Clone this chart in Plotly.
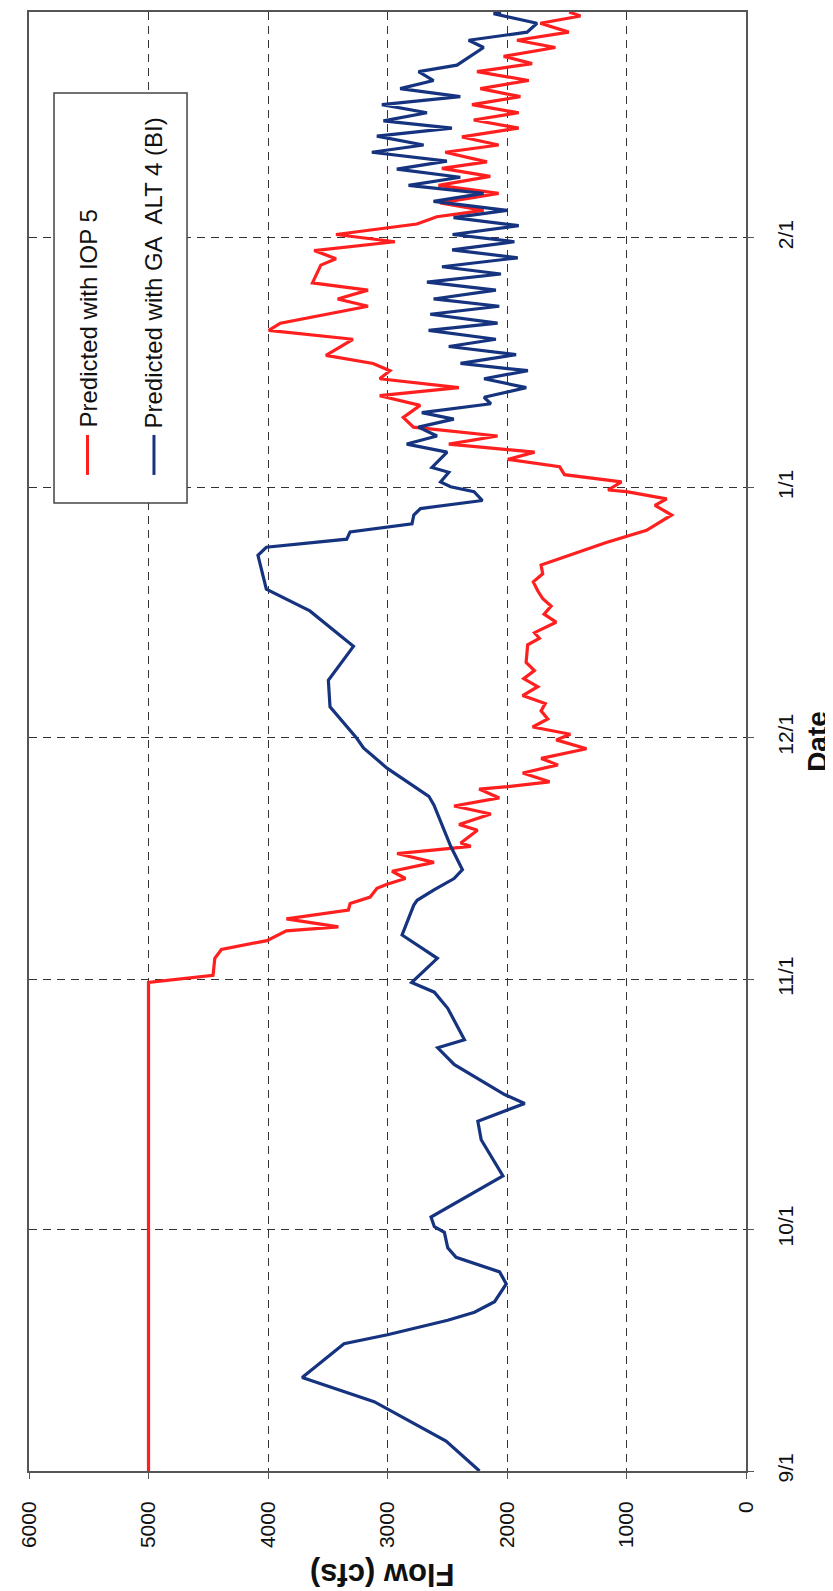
"""Predicted flow, IOP 5 vs GA ALT 4 (BI) - rotated page layout."""

import pandas as pd
import plotly.graph_objects as go

START = pd.Timestamp("2009-09-01")
END = pd.Timestamp("2010-03-01")

month_ticks = ["2009-09-01", "2009-10-01", "2009-11-01", "2009-12-01", "2010-01-01", "2010-02-01"]
month_labels = ["9/1", "10/1", "11/1", "12/1", "1/1", "2/1"]
flow_ticks = [0, 1000, 2000, 3000, 4000, 5000, 6000]

# days after 9/1 and flow (cfs)
iop5_days = [
    0, 60.6, 61.5, 63.6, 64.7, 65.8, 67.0, 67.5, 68.5, 69.6, 70.4, 71.2, 72.3, 72.8,
    73.5, 74.4, 75.5, 76.6, 77.5, 77.9, 79.5, 80.2, 81.5, 82.5, 83.5, 84.6, 84.9,
    85.5, 86.6, 87.6, 88.4, 89.6, 90.7, 91.4, 92.3, 93.3, 94.3, 95.2, 96.2, 97.3,
    98.3, 99.3, 100.3, 102.5, 103.3, 104.0, 105.3, 106.3, 107.3, 108.2, 109.2,
    110.3, 111.3, 112.4, 115.2, 116.7, 118.6, 119.8, 120.6, 121.5, 121.7, 122.7,
    123.6, 124.6, 125.5, 126.4, 127.4, 128.4, 129.5, 130.7, 132.2, 133.4, 134.4,
    135.5, 136.5, 137.4, 138.4, 140.4, 141.5, 142.4, 144.5, 145.4, 146.5, 147.4,
    149.6, 150.4, 151.4, 152.5, 153.4, 154.7, 155.6, 156.4, 157.3, 158.5, 159.5,
    160.6, 161.6, 162.4, 163.6, 164.5, 165.5, 166.6, 167.6, 168.5, 169.5, 170.5,
    171.5, 172.5, 173.6, 174.6, 175.5, 176.6, 177.5, 178.5, 179.6, 180.5, 181.0,
]
iop5_flow = [
    5000, 5000, 4460, 4445, 4390, 4010, 3846, 3411, 3846, 3327, 3313, 3145, 3088, 3004,
    2850, 2962, 2611, 2920, 2303, 2387, 2247, 2401, 2135, 2443, 2065, 2233, 1994,
    1644, 1868, 1574, 1714, 1335, 1588, 1470, 1785, 1659, 1715, 1680, 1869, 1743,
    1860, 1771, 1840, 1827, 1729, 1770, 1589, 1690, 1631, 1700, 1743,
    1780, 1701, 1715, 1169, 832, 622, 762, 664, 1000, 1154, 1042,
    1519, 1560, 1994, 1769, 2487, 2079, 2783, 2868, 2727, 3065, 2403,
    3065, 2980, 3121, 3515, 3290, 3994, 3896, 3163, 3417, 3163, 3628,
    3558, 3431, 3614, 2938, 3431, 2754, 2587, 2196, 2559, 2070, 2573,
    2140, 2545, 2168, 2517, 2070, 2377, 1902, 2279, 1902, 2293, 1888,
    2223, 1818, 2251, 1790, 2028, 1595, 1916, 1483, 1721, 1385, 1480,
]

alt4_days = [
    0, 3.7, 8.6, 11.6, 15.8, 16.9, 18.7, 19.7, 21.0, 23.2, 24.7, 26.5, 27.7, 29.6,
    30.3, 31.5, 36.6, 41.1, 43.4, 45.6, 46.7, 50.4, 52.5, 53.5, 57.4, 59.4, 60.6,
    63.6, 66.5, 70.2, 70.8, 72.1, 73.5, 74.6, 77.5, 82.6, 83.7, 87.2, 89.7, 90.9,
    94.8, 98.1, 102.3, 106.7, 109.4, 113.6, 114.6, 115.6, 116.5, 117.1, 117.5,
    118.6, 119.4, 120.4, 121.5, 122.1, 122.7, 123.9, 124.5, 126.4, 127.4, 128.4,
    129.5, 130.5, 131.3, 132.4, 133.2, 134.4, 135.5, 136.5, 137.4, 138.5, 139.5,
    140.4, 141.5, 142.4, 143.5, 144.5, 145.4, 146.5, 147.5, 148.5, 149.4, 150.5,
    151.5, 152.5, 153.4, 154.5, 155.5, 156.4, 157.5, 158.5, 159.5, 160.5, 161.5,
    162.5, 163.6, 164.5, 165.6, 166.6, 167.5, 168.5, 169.5, 170.5, 171.5, 172.5,
    173.6, 174.4, 176.6, 177.5, 178.5, 179.6, 180.8, 181.0,
]
alt4_flow = [
    2230, 2510, 3112, 3714, 3364, 3000, 2496, 2272, 2104, 2006, 2062, 2426, 2496, 2524,
    2608, 2636, 2034, 2216, 2244, 1852, 2020, 2440, 2580, 2356, 2496, 2608, 2798,
    2583, 2878, 2780, 2752, 2611, 2443, 2373, 2471, 2611, 2654, 3004, 3201, 3257,
    3481, 3495, 3285, 3650, 4014, 4084, 4014, 3341, 3313, 2991, 2795,
    2780, 2724, 2206, 2276, 2472, 2556, 2487, 2628, 2501, 2839, 2586,
    2741, 2445, 2713, 2135, 2192, 1839, 2192, 1825, 2389, 1924, 2487,
    2093, 2656, 2079, 2642, 2065, 2614, 2093, 2670, 2051, 2544, 1910,
    2459, 1938, 2455, 1902, 2447, 2000, 2615, 2196, 2824, 2391, 2922,
    2503, 3131, 2698, 3089, 2461, 3034, 2670, 3047, 2391, 2894, 2615,
    2740, 2419, 2196, 2321, 1832, 1749, 2112, 2050,
]

RED = "#ff1f1f"
BLUE = "#15337f"
FONT = "Liberation Sans, Arial, sans-serif"


def to_dates(days):
    return START + pd.to_timedelta(days, unit="D")


fig = go.Figure()
fig.add_trace(go.Scatter(x=iop5_flow, y=to_dates(iop5_days), mode="lines",
                         line=dict(color=RED, width=3.2), name="Predicted with IOP 5"))
fig.add_trace(go.Scatter(x=alt4_flow, y=to_dates(alt4_days), mode="lines",
                         line=dict(color=BLUE, width=3.2), name="Predicted with GA ALT 4 (BI)"))

axis_common = dict(
    showgrid=True, gridcolor="#333333", gridwidth=1.4, griddash="8px,6px",
    showline=True, mirror=True, linecolor="#555555", linewidth=2,
    ticks="outside", ticklen=6, tickcolor="#555555", tickangle=-90,
    tickfont=dict(family=FONT, size=21, color="#111111"), zeroline=False,
)

fig.update_xaxes(range=[6000, 0], tickvals=flow_ticks, ticklabelstandoff=14, **axis_common)
fig.update_yaxes(type="date", range=[START, END], side="right",
                 tickvals=month_ticks, ticktext=month_labels,
                 ticklabelstandoff=14, **axis_common)
# the date axis title reads bottom-to-top, as plotly draws y titles
fig.update_yaxes(title=dict(text="<b>Date</b>", standoff=11,
                            font=dict(family=FONT, size=28, color="#111111")))

# flow axis title is upside down in the rotated page
fig.add_annotation(text="<b>Flow (cfs)</b>", xref="paper", yref="paper", x=0.492, y=-0.0713,
                   xanchor="center", yanchor="middle", textangle=180, showarrow=False,
                   font=dict(family=FONT, size=31, color="#111111"))

# rotated legend box
fig.add_shape(type="rect", xref="paper", yref="paper", x0=0.0349, x1=0.2204, y0=0.6635, y1=0.9445,
              line=dict(color="#444444", width=1.5), fillcolor="white", layer="above")
legend_items = [("Predicted with IOP 5", RED, 0.0816), ("Predicted with GA  ALT 4 (BI)", BLUE, 0.1743)]
for label, color, xp in legend_items:
    fig.add_shape(type="line", xref="paper", yref="paper", x0=xp, x1=xp, y0=0.6827, y1=0.7101,
                  line=dict(color=color, width=3), layer="above")
    fig.add_annotation(text=label.replace("  ", "&nbsp; "), xref="paper", yref="paper",
                       x=xp, y=0.7135, textangle=-90,
                       xanchor="center", yanchor="bottom", showarrow=False,
                       font=dict(family=FONT, size=24, color="#111111"))

fig.update_layout(
    width=833, height=1591,
    margin=dict(l=21, r=95, t=4, b=128, autoexpand=False),
    plot_bgcolor="white", paper_bgcolor="white",
    showlegend=False,
)

fig.write_html("out.html")
